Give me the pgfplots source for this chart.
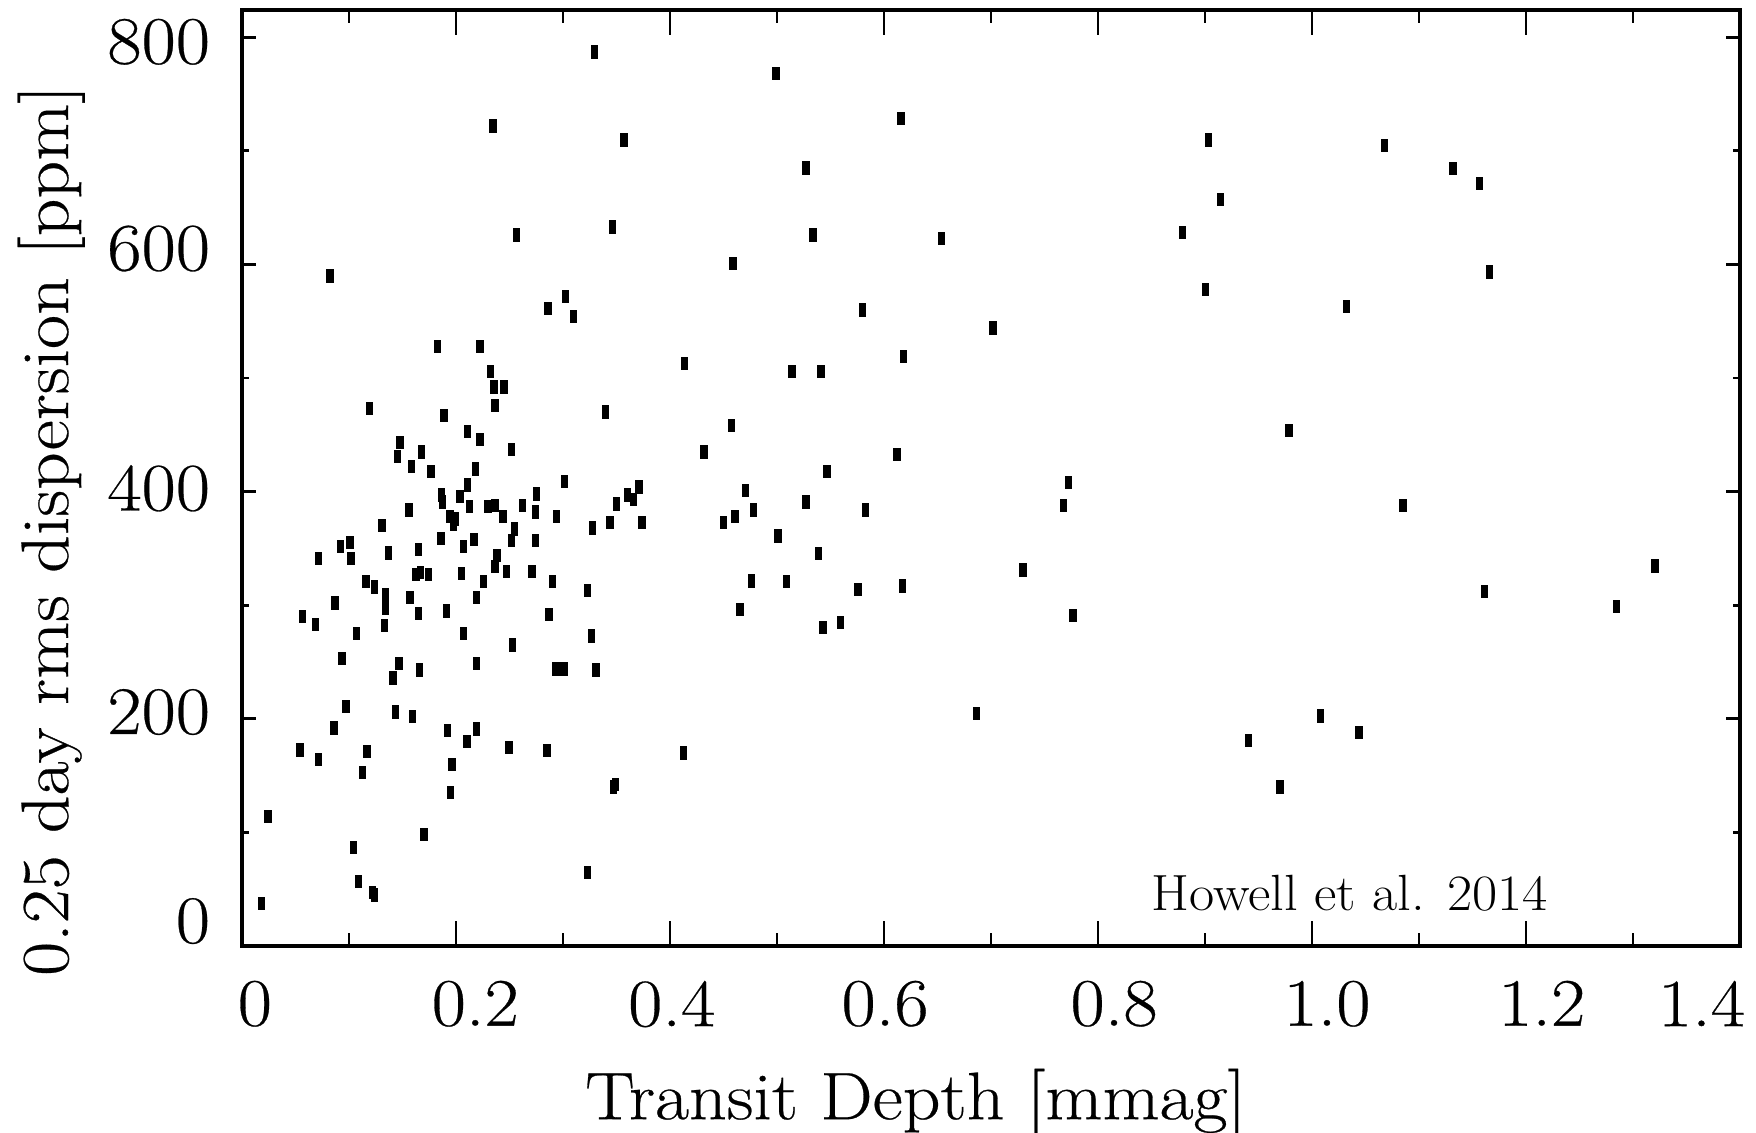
\documentclass[border=0pt]{standalone}
\usepackage{fontspec}
\setmainfont{Latin Modern Roman}[FakeStretch=1.1, FakeBold=0.4]
\newfontfamily\plainlm{Latin Modern Roman}[FakeStretch=1.075]
\usepackage{pgfplots}
\pgfplotsset{compat=1.18}
\pgfdeclareplotmark{hrect}{\pgfpathrectangle{\pgfpoint{-1.05pt}{-1.9pt}}{\pgfpoint{2.1pt}{3.8pt}}\pgfusepathqfill}
\newcommand{\tfont}{\fontsize{19.3}{23}\selectfont}
\newcommand{\lfont}{\fontsize{19.15}{23}\selectfont}
\begin{document}
\begin{tikzpicture}
\begin{axis}[name=ax, scale only axis, width=426.5pt, height=266.5pt,
  xmin=0, xmax=1.4, ymin=0, ymax=824,
  tick pos=both, tick align=inside,
  xtick={0,0.2,0.4,0.6,0.8,1.0,1.2,1.4}, xticklabels={,,,,,,,},
  ytick={0,200,400,600,800}, yticklabels={,,,,},
  minor x tick num=1, minor y tick num=1,
  xtick style={/pgfplots/major tick length=7.1pt,/pgfplots/minor tick length=3.7pt},
  ytick style={/pgfplots/major tick length=4pt,/pgfplots/minor tick length=2.1pt},
  tick style={line width=0.8pt, black},
  axis line style={line width=1.1pt},
  extra x ticks={0.012,0.218,0.4016,0.601,0.815,1.014,1.2147,1.364},
  extra x tick labels={0,0.2,0.4,0.6,0.8,1.0,1.2,1.4},
  extra x tick style={tick style={draw=none}},
  extra y ticks={22,206,403,614,796},
  extra y tick labels={0,200,400,600,800},
  extra y tick style={tick style={draw=none}},
  xticklabel style={font=\tfont, anchor=north, inner sep=0pt, yshift=-9.7pt},
  yticklabel style={font=\tfont, anchor=east, inner sep=0pt, xshift=-8.9pt},
  xlabel={Transit Depth [mmag]},
  ylabel={0.25 day rms dispersion [ppm]},
  xlabel style={font=\lfont, at={(axis description cs:0.4497,-0.185)}, anchor=base, inner sep=0pt},
  ylabel style={font=\lfont, at={(axis description cs:-0.1161,0.444)}, anchor=base, inner sep=0pt},
]
\addplot[only marks, mark=hrect, color=black] coordinates {
(0.2345,722) (0.2564,626) (0.3297,787) (0.3025,572) (0.0822,590)
(0.286,561) (0.310,554) (0.183,528) (0.2224,528) (0.2324,506) (0.2355,492) (0.245,492)
(0.2364,476) (0.1193,473) (0.340,470) (0.1888,467) (0.2106,453) (0.2224,446) (0.1477,443)
(0.252,437) (0.1452,431) (0.168,435) (0.1583,422) (0.1766,418) (0.218,420) (0.3016,409)
(0.2106,406) (0.1866,397) (0.1875,391) (0.2037,396) (0.2754,398) (0.360,397) (0.366,393)
(0.371,404) (0.156,384) (0.2125,387) (0.230,387) (0.2364,388) (0.2623,388) (0.2745,382)
(0.350,389) (0.1944,378) (0.199,376) (0.1975,371) (0.244,378) (0.294,378) (0.344,373)
(0.3274,368) (0.374,373) (0.131,370) (0.2548,367) (0.186,359) (0.217,358) (0.2517,357)
(0.2745,357) (0.207,352) (0.0922,352) (0.101,355) (0.0716,341) (0.1019,341) (0.1368,346)
(0.1648,349) (0.2383,344) (0.2364,334) (0.247,330) (0.271,330) (0.1626,327) (0.1667,329)
(0.1745,327) (0.205,328) (0.2256,321) (0.290,321) (0.1159,321) (0.1237,316) (0.1343,309)
(0.157,307) (0.2193,307) (0.323,313) (0.0869,302) (0.1343,297) (0.1648,293) (0.191,295)
(0.287,292) (0.0564,290) (0.0685,283)
(0.133,282) (0.107,275) (0.207,275) (0.3265,273) (0.2526,265) (0.0935,253) (0.1467,249)
(0.141,236) (0.166,243) (0.2193,249) (0.2935,244) (0.301,244) (0.3308,243) (0.0972,211)
(0.1433,206) (0.1595,202) (0.086,192) (0.1919,190) (0.2193,191) (0.2103,180) (0.2495,175)
(0.285,172) (0.0542,172.5) (0.0716,164) (0.117,171) (0.1128,153) (0.1963,160) (0.195,135)
(0.347,140) (0.349,142) (0.0243,114) (0.170,98) (0.104,87) (0.323,65) (0.1087,57)
(0.122,47) (0.124,45) (0.0184,37.6)
(0.499,768) (0.616,728.5) (0.357,709.5) (0.527,685) (0.346,633) (0.5336,626) (0.654,623)
(0.459,601) (0.580,560) (0.702,544) (0.4134,513) (0.514,505.5) (0.541,505.5) (0.618,519)
(0.4576,458) (0.4318,435) (0.612,433) (0.5467,417.5)
(0.7725,408) (0.768,388) (0.4707,401) (0.478,384) (0.4607,378) (0.45,373) (0.527,391)
(0.5826,384) (0.501,361) (0.539,345.5) (0.476,321.5) (0.509,321) (0.5757,314) (0.617,317)
(0.4654,296) (0.543,280.5) (0.5595,285) (0.730,331) (0.7766,291) (0.6866,205) (0.4125,170)
(0.903,709.5) (1.0676,705) (1.1316,684.5) (1.1566,671) (0.9145,657) (0.8787,628)
(1.166,593.5) (0.9004,578) (1.032,563) (0.9785,453.6)
(1.085,388) (1.161,312) (1.3206,334.5) (1.2847,299) (1.008,202.5) (0.9407,181)
(1.0438,188) (0.970,140)
};
\node[anchor=base west, inner sep=0pt, font=\plainlm\fontsize{14.5}{17}\selectfont] at (axis cs:0.8495,31) {Howell et al. 2014};
\end{axis}
\pgfresetboundingbox
\path[use as bounding box] ([shift={(-68.9pt,-52.96pt)}]ax.south west) rectangle ([shift={(4.56pt,2.85pt)}]ax.north east);
\end{tikzpicture}
\end{document}
